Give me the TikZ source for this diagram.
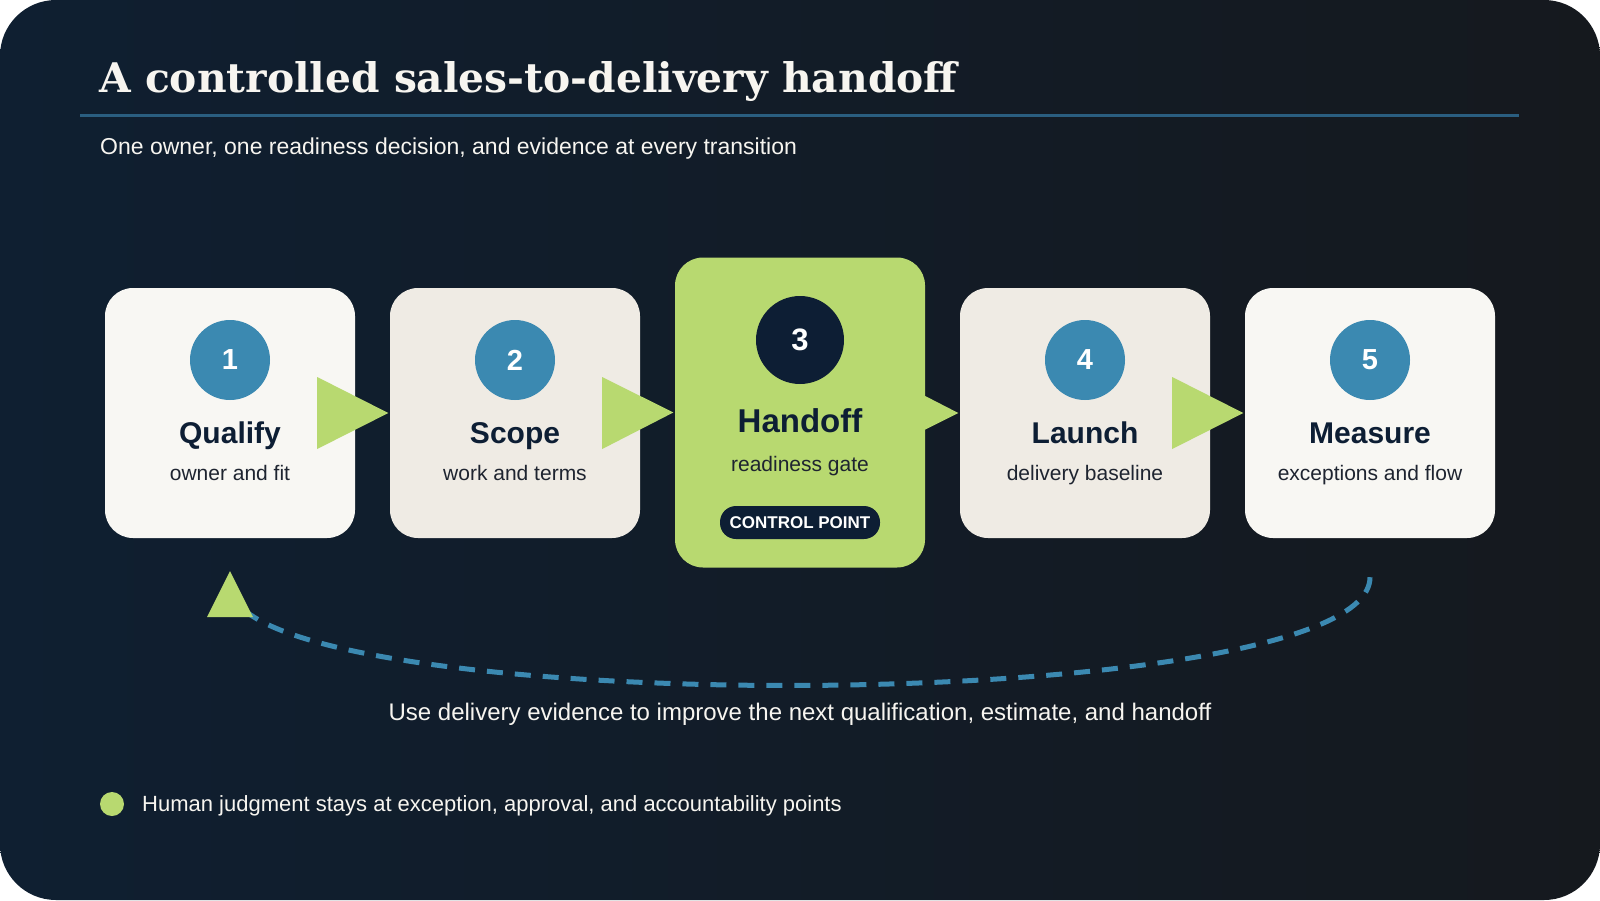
\documentclass[tikz,border=0pt]{standalone}
\usepackage{fontspec}
\setmainfont{Liberation Sans}
\newfontfamily\headserif{DejaVu Serif}
\usepackage{tikz}
\usetikzlibrary{calc}
\definecolor{bgnavy}{HTML}{0F1F31}
\definecolor{bgink}{HTML}{15191E}
\definecolor{ruleblue}{HTML}{2A5E80}
\definecolor{cardlight}{HTML}{F8F7F3}
\definecolor{cardbeige}{HTML}{EFEBE4}
\definecolor{gategreen}{HTML}{B8D970}
\definecolor{dotblue}{HTML}{3B89B1}
\definecolor{deepnavy}{HTML}{0D1E34}
\definecolor{noteink}{HTML}{1E2430}
\definecolor{paper}{HTML}{F7F5F0}
\tikzstyle{stepcard}=[rectangle,rounded corners=28pt,minimum width=250pt,minimum height=250pt,inner sep=0pt]
\tikzstyle{gatecard}=[stepcard,minimum height=310pt,fill=gategreen]
\tikzstyle{numdot}=[circle,fill=dotblue,minimum size=80pt,inner sep=0pt,text=white,font=\fontsize{29}{34}\selectfont\bfseries]
\tikzstyle{steptitle}=[anchor=base,inner sep=0pt,text=deepnavy,font=\fontsize{30}{36}\selectfont\bfseries]
\tikzstyle{stepnote}=[anchor=base,inner sep=0pt,text=noteink,font=\fontsize{21}{25}\selectfont]
\tikzstyle{pill}=[rectangle,rounded corners=16pt,fill=deepnavy,text=white,minimum width=160pt,minimum height=33pt,inner sep=0pt,font=\fontsize{17}{20}\selectfont\bfseries]
\tikzstyle{flowtip}=[fill=gategreen]
\tikzstyle{fbline}=[draw=dotblue,line width=5pt,dash pattern=on 16pt off 12pt]
\tikzstyle{lighttext}=[inner sep=0pt,text=paper]

\begin{document}
\begin{tikzpicture}[x=1pt,y=-1pt]
\useasboundingbox (0,0) rectangle (1600,900);
\fill[white] (0,0) rectangle (1600,900);
\shade[rounded corners=56pt,left color=bgnavy,right color=bgink] (0,0) rectangle (1600,900);
%\draw[step=100pt,gray,very thin] (0,0) grid (1600,900);

\node[lighttext,anchor=base west,font=\headserif\fontsize{40.8}{48}\selectfont\bfseries] (title) at (99,92) {A controlled sales-to-delivery handoff};
\draw[ruleblue,line width=3.5pt] (80,115.7) -- (1519,115.7);
\node[lighttext,anchor=base west,font=\fontsize{23}{27}\selectfont] (subtitle) at (100,154) {One owner, one readiness decision, and evidence at every transition};

\node[stepcard,fill=cardlight] (qualify) at (230,413){};
\node[stepcard,fill=cardbeige] (scope) at (515,413){};
\node[gatecard] (handoff) at (800,412.5){};
\node[stepcard,fill=cardbeige] (launch) at (1085,413){};
\node[stepcard,fill=cardlight] (measure) at (1370,413){};

\node[numdot] (n1) at (230,360){1};
\node[steptitle] (t1) at (230,443){Qualify};
\node[stepnote] (s1) at (230,480){owner and fit};
\node[numdot] (n2) at (515,360){2};
\node[steptitle] (t2) at (515,443){Scope};
\node[stepnote] (s2) at (515,480){work and terms};
\node[numdot,fill=deepnavy,minimum size=88pt,font=\fontsize{31}{36}\selectfont\bfseries] (n3) at (800,340){3};
\node[steptitle,font=\fontsize{33}{40}\selectfont\bfseries] (t3) at (800,432){Handoff};
\node[stepnote] (s3) at (800,471){readiness gate};
\node[pill] (ctrl) at (800,522.5){CONTROL POINT};
\node[numdot] (n4) at (1085,360){4};
\node[steptitle] (t4) at (1085,443){Launch};
\node[stepnote] (s4) at (1085,480){delivery baseline};
\node[numdot] (n5) at (1370,360){5};
\node[steptitle] (t5) at (1370,443){Measure};
\node[stepnote] (s5) at (1370,480){exceptions and flow};

\fill[flowtip] ([xshift=-38pt,yshift=36pt]qualify.east) -- ([xshift=-1.5pt]scope.west) -- ([xshift=-38pt,yshift=-36pt]qualify.east) -- cycle;
\fill[flowtip] ([xshift=-38pt,yshift=36pt]scope.east) -- ([xshift=-1.5pt]handoff.west) -- ([xshift=-38pt,yshift=-36pt]scope.east) -- cycle;
\fill[flowtip] ([xshift=-38pt,yshift=36pt]handoff.east) -- ([xshift=-1.5pt]launch.west) -- ([xshift=-38pt,yshift=-36pt]handoff.east) -- cycle;
\fill[flowtip] ([xshift=-38pt,yshift=36pt]launch.east) -- ([xshift=-1.5pt]measure.west) -- ([xshift=-38pt,yshift=-36pt]launch.east) -- cycle;

\coordinate (fbstart) at ($(measure.south)+(0,39)$);
\coordinate (fbend) at ($(qualify.south)+(0,47)$);
\draw[fbline] (fbstart) .. controls ($(fbstart)+(0,143)$) and ($(fbend)+(0,135)$) .. (fbend);
\fill[flowtip] ($(fbend)+(0,-14)$) -- ($(fbend)+(23,32)$) -- ($(fbend)+(-23,32)$) -- cycle;
\node[lighttext,anchor=base,font=\fontsize{24}{28}\selectfont] (fbnote) at (800,720){Use delivery evidence to improve the next qualification, estimate, and handoff};

\node[circle,fill=gategreen,minimum size=24pt,inner sep=0pt] (hdot) at (112,804){};
\node[lighttext,anchor=base west,font=\fontsize{22}{26}\selectfont] (hnote) at (142,811.7){Human judgment stays at exception, approval, and accountability points};
\end{tikzpicture}
\end{document}
